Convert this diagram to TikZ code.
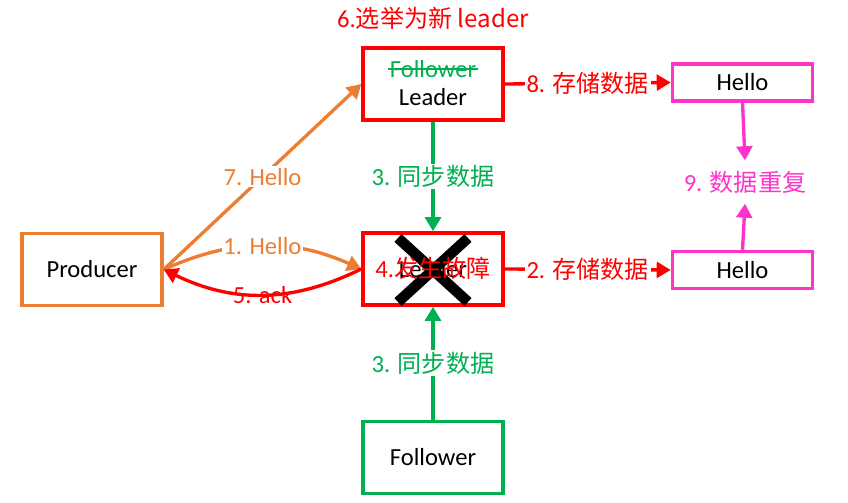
\documentclass[tikz,border=0pt]{standalone}
\usepackage{fontspec}
\setmainfont{Carlito}
\newfontfamily\cjk[Scale=0.98]{Noto Sans CJK SC}
\usetikzlibrary{arrows.meta,positioning}
\definecolor{kOrange}{HTML}{ED7D31}
\definecolor{kRed}{HTML}{FF0000}
\definecolor{kGreen}{HTML}{00B050}
\definecolor{kPink}{HTML}{FF33CC}
\tikzset{
 kf box/.style={draw,line width=2pt,minimum width=2.8cm,minimum height=1.44cm,
                inner sep=0pt,font=\fontsize{14}{16}\selectfont},
 kf small/.style={kf box,draw=kPink,minimum height=0.74cm},
 kf label/.style={inner sep=1pt,font=\fontsize{14}{16}\selectfont},
 kf edge label/.style={kf label,fill=white},
 kf arrow/.style={line width=1.9pt,-{Triangle[length=8pt,width=9pt]}}
}
\begin{document}
\begin{tikzpicture}[x=0.02cm,y=-0.02cm]
 \useasboundingbox (0,0) rectangle (848,503);
 % boxes
 \node[kf box,draw=kOrange] (prod) at (92,269.5) {Producer};
 \node[kf box,draw=kRed] (lead) at (433,84) {};
 \node[kf box,draw=kRed] (fail) at (433,269) {Leader};
 \node[kf box,draw=kGreen] (foll) at (433,457.5) {Follower};
 \node[kf small] (hello1) at (742.5,82.5) {Hello};
 \node[kf small] (hello2) at (742.5,270) {Hello};
 % texts in and round the new leader
 \node[kf label,text=kRed] (elect) at (433,18) {6.\cjk{选举为新} leader};
 \node[kf label,text=kGreen] (oldrole) at (433,69) {Follower};
 \draw[kGreen,line width=1.2pt] (oldrole.west) -- (oldrole.east);
 \node[kf label] (newrole) at (433,97) {Leader};
 % failed leader
 \draw[line width=6pt] (398,238) -- (468,302) (468,238) -- (398,302);
 \node[kf label,text=kRed] (fault) at (433,268) {4.\cjk{发生故障}};
 % replication
 \draw[kf arrow,kGreen] (lead.south) -- node[kf edge label,text=kGreen] {3. \cjk{同步数据}} (fail.north);
 \draw[kf arrow,kGreen] (foll.north) -- node[kf edge label,text=kGreen] {3. \cjk{同步数据}} (fail.south);
 % producer
 \draw[kf arrow,kOrange] (prod.east) -- node[kf edge label,text=kOrange] {7. Hello} (lead.west);
 \draw[kf arrow,kOrange] (prod.east) to[bend left=24] node[kf edge label,text=kOrange] {1. Hello} (fail.west);
 \draw[kf arrow,kRed] (fail.west) to[bend left=26] node[kf label,text=kRed] {5. ack} (prod.east);
 % storage
 \draw[kf arrow,kRed] (lead.east) -- node[kf edge label,text=kRed] {8. \cjk{存储数据}} (hello1.west);
 \draw[kf arrow,kRed] (fail.east) -- node[kf edge label,text=kRed] {2. \cjk{存储数据}} (hello2.west);
 \node[kf label,text=kPink,outer sep=5pt] (dup) at (745,182) {9. \cjk{数据重复}};
 \draw[kf arrow,kPink] (hello1.south) -- (dup.north);
 \draw[kf arrow,kPink] (hello2.north) -- (dup.south);
\end{tikzpicture}
\end{document}
